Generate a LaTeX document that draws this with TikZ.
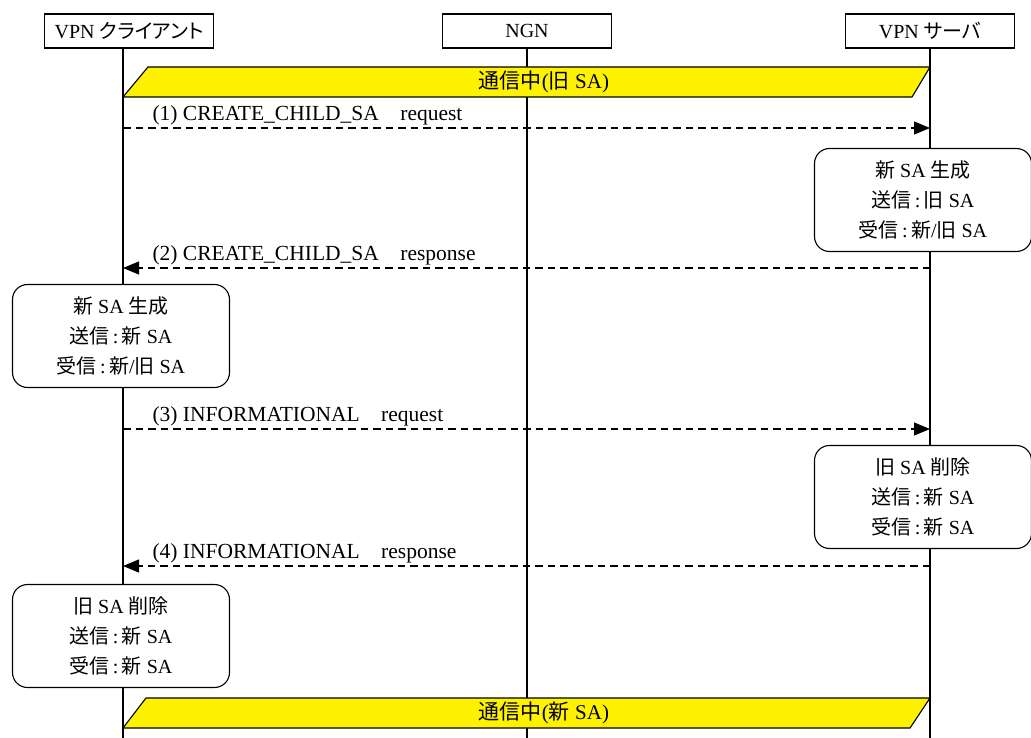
\documentclass[tikz,border=0pt]{standalone}
\usepackage{fontspec}
\setmainfont{Liberation Serif}
\newfontfamily\jp[RawFeature=+palt]{Noto Sans CJK JP}
\newcommand\jtxt[1]{{\jp #1}}
\usetikzlibrary{arrows.meta}
\begin{document}
\begin{tikzpicture}[x=1pt,y=-1pt,line width=1.1pt,font=\fontsize{20}{30}\selectfont,
	head/.style={draw,minimum width=169pt,minimum height=34pt,inner sep=0pt},
	statebox/.style={draw,fill=white,rounded corners=15pt,minimum width=217pt,minimum height=103pt,align=center,inner sep=0pt},
	band/.style={draw,fill=yellow},
	msg/.style={dash pattern=on 7.5pt off 5pt,-{Triangle[length=16pt,width=13pt]}},
	msglabel/.style={anchor=south west,inner sep=1pt,font=\fontsize{21.5}{26}\selectfont}]
	\useasboundingbox (0,0) rectangle (1031,738);
	% lifelines
	\node[head] (client) at (129,31) {VPN \jtxt{クライアント}};
	\node[head] (ngn) at (527,31) {NGN};
	\node[head] (server) at (930,31) {VPN \jtxt{サーバ}};
	\coordinate (clend) at (123,738);
	\coordinate (ngend) at (527,738);
	\coordinate (svend) at (930,738);
	\draw (client.south -| clend) -- (clend);
	\draw (ngn.south) -- (ngend);
	\draw (server.south) -- (svend);
	% old SA
	\draw[band] (clend |- 0,97) -- (148,67) -- (svend |- 0,67) -- (912,97) -- cycle;
	\node[font=\fontsize{21}{26}\selectfont] (oldsa) at (544,82) {\jtxt{通信中}(\jtxt{旧} SA)};
	% messages
	\draw[msg] (clend |- 0,128) -- (svend |- 0,128);
	\node[msglabel] (m1) at (151,127) {(1) CREATE\_CHILD\_SA\quad request};
	\node[statebox] (sv1) at (923,200) {\jtxt{新} SA \jtxt{生成}\\\jtxt{送信}\,:\,\jtxt{旧} SA\\\jtxt{受信}\,:\,\jtxt{新}/\jtxt{旧} SA};
	\draw[msg] (svend |- 0,268) -- (clend |- 0,268);
	\node[msglabel] (m2) at (151,267) {(2) CREATE\_CHILD\_SA\quad response};
	\node[statebox] (cl1) at (121,336) {\jtxt{新} SA \jtxt{生成}\\\jtxt{送信}\,:\,\jtxt{新} SA\\\jtxt{受信}\,:\,\jtxt{新}/\jtxt{旧} SA};
	\draw[msg] (clend |- 0,429) -- (svend |- 0,429);
	\node[msglabel] (m3) at (151,428) {(3) INFORMATIONAL\quad request};
	\node[statebox] (sv2) at (923,497) {\jtxt{旧} SA \jtxt{削除}\\\jtxt{送信}\,:\,\jtxt{新} SA\\\jtxt{受信}\,:\,\jtxt{新} SA};
	\draw[msg] (svend |- 0,566) -- (clend |- 0,566);
	\node[msglabel] (m4) at (151,565) {(4) INFORMATIONAL\quad response};
	\node[statebox] (cl2) at (121,636) {\jtxt{旧} SA \jtxt{削除}\\\jtxt{送信}\,:\,\jtxt{新} SA\\\jtxt{受信}\,:\,\jtxt{新} SA};
	% new SA
	\draw[band] (clend |- 0,728) -- (146,698) -- (svend |- 0,698) -- (910,728) -- cycle;
	\node[font=\fontsize{21}{26}\selectfont] (newsa) at (544,713) {\jtxt{通信中}(\jtxt{新} SA)};
\end{tikzpicture}
\end{document}
